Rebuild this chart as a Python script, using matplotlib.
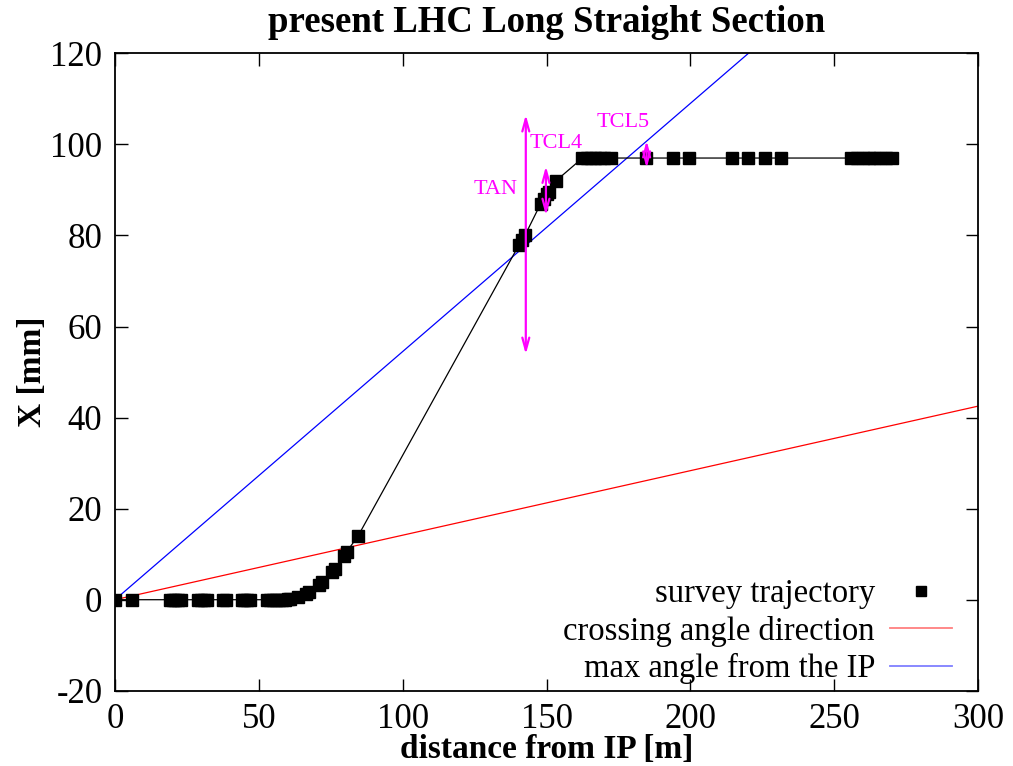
import numpy as np
import matplotlib.pyplot as plt

plt.rcParams['font.family'] = ['Liberation Serif', 'DejaVu Serif']
plt.rcParams['axes.unicode_minus'] = False

# survey points along the long straight section: s [m], x [mm]
survey_s = [0, 6, 19, 20, 21, 22, 23, 29, 30, 31, 32, 37.5, 38.5, 44, 45, 46, 47,
            53, 54, 55, 56, 57, 58, 59, 60, 61, 63.5, 66.5, 67.5, 71, 72, 75.5, 76.5,
            79.5, 80.5, 84.5, 140.5, 141.5, 142.5, 148, 149, 150, 151, 153.3,
            162.5, 164, 165.5, 167, 168.5, 170, 172.5, 184.5, 194, 199.5,
            214.5, 220, 226, 231.5, 256, 258, 260, 262, 264, 266, 268, 270]
survey_x = [0, 0, 0, 0, 0, 0, 0, 0, 0, 0, 0, 0, 0, 0, 0, 0, 0,
            0, 0, 0, 0, 0, 0, 0, 0.1, 0.2, 0.5, 1.3, 1.8, 3.3, 3.9, 6.0, 6.8,
            9.5, 10.5, 14.0, 78.0, 79.0, 80.0, 87.0, 88.0, 89.0, 89.5, 92.0,
            97, 97, 97, 97, 97, 97, 97, 97, 97, 97,
            97, 97, 97, 97, 97, 97, 97, 97, 97, 97, 97, 97]

# straight lines from the IP: slope in mm/m
crossing_slope = 0.1417
max_angle_slope = 0.545
line_s = [0, 300]

# collimator apertures: position, centre, half-gap
collimators = ['TAN', 'TCL4', 'TCL5']
coll_s = [142.8, 149.8, 184.8]
coll_centre = [80.2, 89.8, 97.8]
coll_halfgap = [26.3, 5.4, 3.0]
label_pos = [(140.0, 90.0), (153.3, 100.2), (176.6, 104.9)]

fig = plt.figure(figsize=(10.13, 7.66), dpi=100)
ax = fig.add_axes([0.1135, 0.0982, 0.852, 0.8322])

ax.plot(survey_s, survey_x, color='black', lw=0.9, marker='s', markersize=9,
        label='survey trajectory', zorder=3)
ax.plot(line_s, [crossing_slope * s for s in line_s], color='red', lw=0.9,
        label='crossing angle direction', zorder=2)
ax.plot(line_s, [max_angle_slope * s for s in line_s], color='blue', lw=0.9,
        label='max angle from the IP', zorder=2)

for name, s, c, h, (ls, lx) in zip(collimators, coll_s, coll_centre, coll_halfgap, label_pos):
    ax.annotate('', xy=(s, c + h), xytext=(s, c - h),
                arrowprops=dict(arrowstyle='<->,head_length=0.9,head_width=0.25',
                                color='magenta', lw=1.6, shrinkA=0, shrinkB=0),
                zorder=4)
    ha = 'right' if name == 'TAN' else 'center'
    ax.text(ls, lx, name, color='magenta', fontsize=16, ha=ha, va='center', zorder=4)

ax.set_xlim(0, 300)
ax.set_ylim(-20, 120)
ax.set_xticks(np.arange(0, 301, 50))
ax.set_yticks(np.arange(-20, 121, 20))
ax.tick_params(direction='in', length=9, width=1, top=True, right=True,
               labelsize=25, pad=9)
for sp in ax.spines.values():
    sp.set_linewidth(1.3)

ax.set_title('present LHC Long Straight Section', fontsize=26.5, fontweight='bold', pad=15)
ax.set_xlabel('distance from IP [m]', fontsize=24, fontweight='bold', labelpad=-2)
ax.set_ylabel('X [mm]', fontsize=24, fontweight='bold', labelpad=2)

handles, labels = ax.get_legend_handles_labels()
handles[0] = plt.Line2D([], [], color='black', marker='s', markersize=7, lw=0)
leg = ax.legend(handles, labels, loc='lower right', bbox_to_anchor=(0.977, 0.0),
                frameon=False, markerfirst=False,
                fontsize=23.5, handlelength=1.9, handletextpad=0.45, labelspacing=0.2,
                borderaxespad=0.0, borderpad=0.2)
for line in leg.get_lines()[1:]:
    line.set_alpha(0.5)
    line.set_linewidth(1.3)

fig.savefig('out.png', dpi=100)
